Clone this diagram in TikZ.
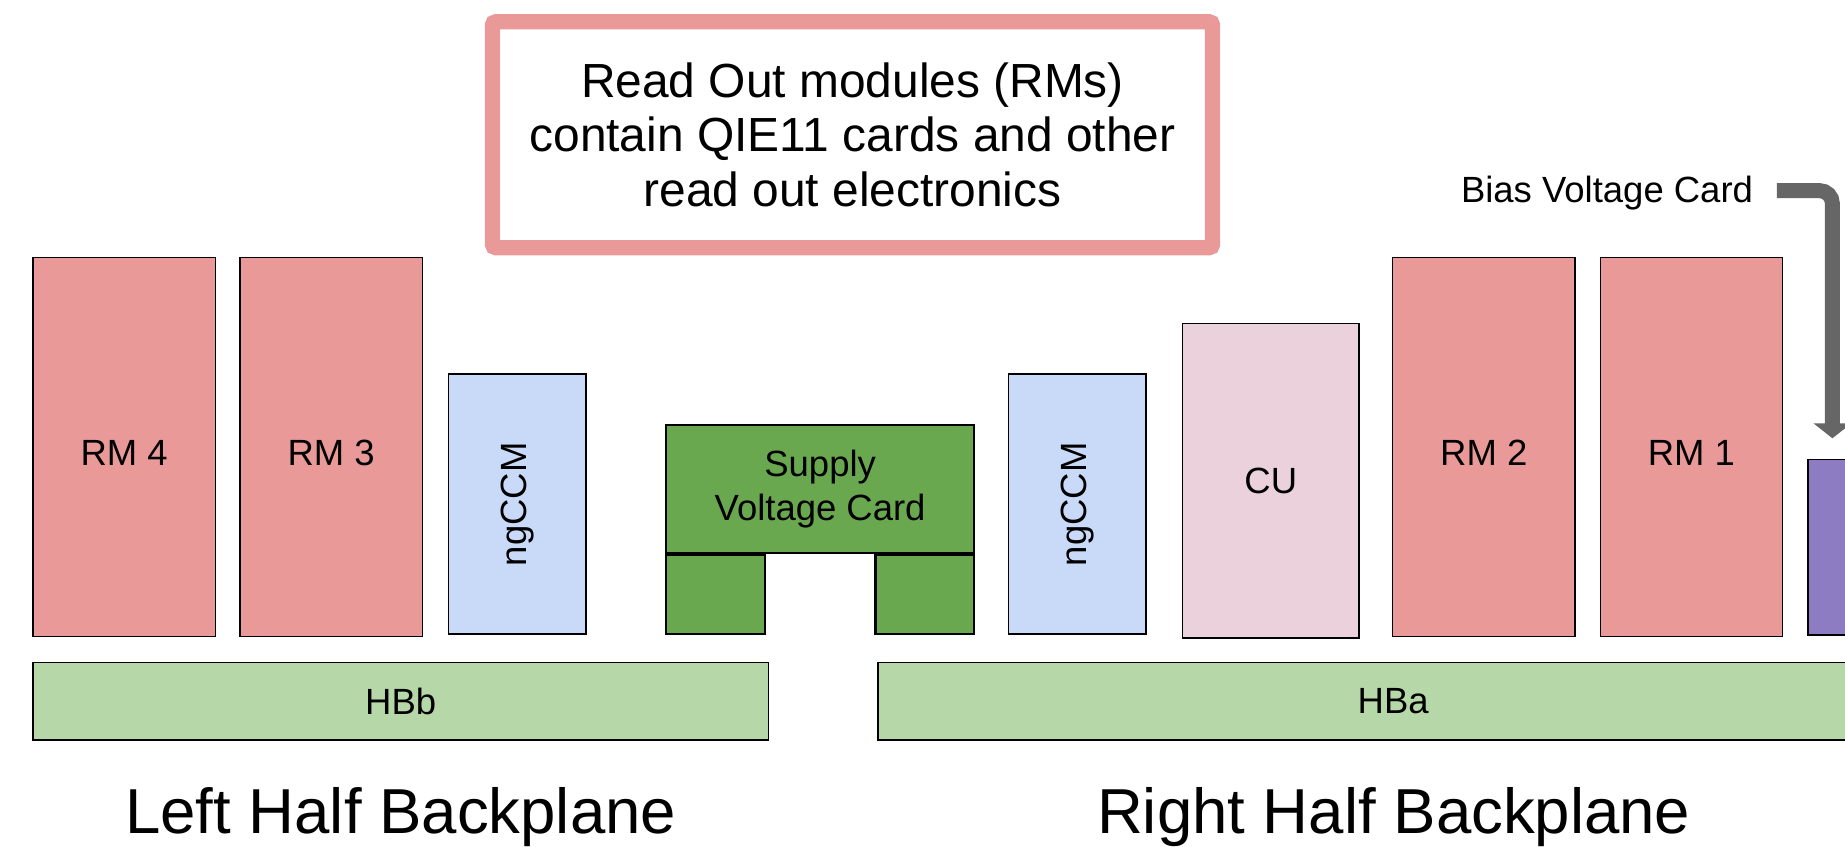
\documentclass[tikz,border=0pt]{standalone}
\usepackage{fontspec}
\setmainfont{Liberation Sans}
\usetikzlibrary{arrows.meta}
\definecolor{rmred}{HTML}{EA9999}
\definecolor{ngblue}{HTML}{C9DAF8}
\definecolor{cupink}{HTML}{EAD1DC}
\definecolor{svgreen}{HTML}{6AA84F}
\definecolor{hbgreen}{HTML}{B6D7A8}
\definecolor{bvpurple}{HTML}{8E7CC3}
\definecolor{arrowgray}{HTML}{666666}
\begin{document}
\begin{tikzpicture}[x=1pt,y=-1pt,
  card/.style={draw=black, line width=1.3pt, inner sep=0pt, font=\fontsize{31}{37.5}\selectfont, align=center},
  rmcard/.style={card, fill=rmred, minimum width=155pt, minimum height=322pt, text height=31.6pt, text depth=0pt},
  ngcard/.style={card, fill=ngblue, minimum width=117pt, minimum height=221pt},
  svcard/.style={card, fill=svgreen, line width=1.8pt},
  hbcard/.style={card, fill=hbgreen, minimum height=66pt},
  biglabel/.style={anchor=base, inner sep=0pt, font=\fontsize{54}{60}\selectfont},
]
\useasboundingbox (0,0) rectangle (1568,719);
\clip (0,0) rectangle (1568,719);

% note box
\node[draw=rmred, line width=13pt, rounded corners=3pt, fill=white,
      minimum width=612pt, minimum height=192pt, inner sep=0pt, align=center,
      font=\fontsize{40.7}{46.5}\selectfont] (note) at (724.5,114.5)
  {Read Out modules (RMs)\\contain QIE11 cards and other\\read out electronics};

% left half
\node[rmcard] (rm4) at (105.5,380) {RM 4};
\node[rmcard] (rm3) at (281.5,380) {RM 3};
\node[ngcard] (ngl) at (439.5,428.5) {\rotatebox{90}{ngCCM}};
\node[svcard, minimum width=262pt, minimum height=109pt] (sv) at (697,415.5) {Supply\\Voltage Card};
\node[svcard, minimum width=84pt, minimum height=67pt, anchor=north west] (svl) at (sv.south west) {};
\node[svcard, minimum width=84pt, minimum height=67pt, anchor=north east] (svr) at (sv.south east) {};
\node[hbcard, minimum width=625pt] (hbb) at (340.5,596) {HBb};

% right half
\node[ngcard] (ngr) at (915.5,428.5) {\rotatebox{90}{ngCCM}};
\node[card, fill=cupink, minimum width=150pt, minimum height=267pt] (cu) at (1080,408.5) {CU};
\node[rmcard] (rm2) at (1261,380) {RM 2};
\node[rmcard] (rm1) at (1437.5,380) {RM 1};
\node[card, fill=bvpurple, minimum width=60pt, minimum height=149pt, anchor=north west] (bv) at (1536,390) {};
\node[hbcard, minimum width=876pt] (hba) at (1184,596) {HBa};

% labels
\node[biglabel] (lhb) at (340.5,708) {Left Half Backplane};
\node[biglabel] (rhb) at (1184.5,708) {Right Half Backplane};
\node[anchor=base east, inner sep=0pt, font=\fontsize{31}{37.5}\selectfont] (bias) at (1490,172) {Bias Voltage Card};

% arrow
\coordinate (bvtip) at (1557.3,372.5);
\draw[arrowgray, line width=12.7pt, rounded corners=11pt,
      -{Triangle[width=31.5pt,length=12.7pt]}]
  ([xshift=20pt,yshift=2pt]bias.east) -| (bvtip);
\end{tikzpicture}
\end{document}
